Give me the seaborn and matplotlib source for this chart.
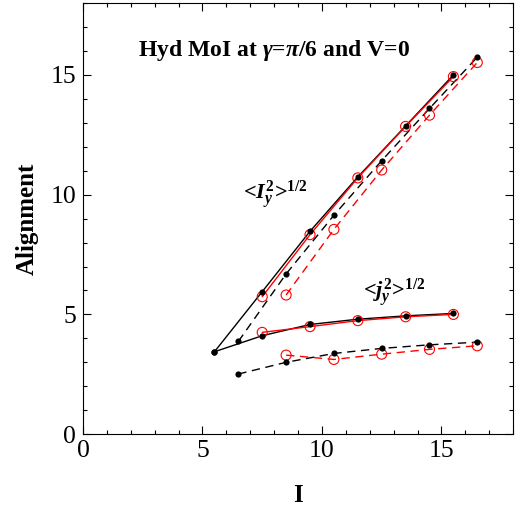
import numpy as np
import pandas as pd
import matplotlib
matplotlib.use("Agg")
import matplotlib.pyplot as plt
import seaborn as sns
from matplotlib.ticker import MultipleLocator

# ---- data ----
spin_a = [5.5, 7.5, 9.5, 11.5, 13.5, 15.5]
Iy_black_solid = [3.44, 5.95, 8.47, 10.74, 12.87, 15.0]
jy_black_solid = [3.44, 4.11, 4.58, 4.8, 4.94, 5.04]

spin_a_red = [7.5, 9.5, 11.5, 13.5, 15.5]
Iy_red_solid = [5.74, 8.33, 10.7, 12.85, 14.93]
jy_red_solid = [4.25, 4.49, 4.74, 4.9, 5.0]

spin_b = [6.5, 8.5, 10.5, 12.5, 14.5, 16.5]
Iy_black_dash = [3.87, 6.69, 9.14, 11.42, 13.6, 15.74]
jy_black_dash = [2.51, 3.0, 3.37, 3.58, 3.73, 3.84]

spin_b_red = [8.5, 10.5, 12.5, 14.5, 16.5]
Iy_red_dash = [5.81, 8.55, 11.03, 13.32, 15.52]
jy_red_dash = [3.3, 3.12, 3.34, 3.54, 3.69]

title_text = r"Hyd MoI at $\gamma$=$\pi$/6 and V=0"
label_I = r"<$I_y^2$>$^{1/2}$"
label_j = r"<$j_y^2$>$^{1/2}$"

# ---- style ----
sns.set_style("ticks")
plt.rcParams["font.family"] = ["Liberation Serif", "DejaVu Serif"]
plt.rcParams["mathtext.fontset"] = "custom"
plt.rcParams["mathtext.rm"] = "Liberation Serif:bold"
plt.rcParams["mathtext.it"] = "Liberation Serif:italic:bold"
plt.rcParams["mathtext.bf"] = "Liberation Serif:bold"
plt.rcParams["text.color"] = "black"
plt.rcParams["axes.labelcolor"] = "black"
plt.rcParams["xtick.color"] = "black"
plt.rcParams["ytick.color"] = "black"
plt.rcParams["axes.edgecolor"] = "black"

fig = plt.figure(figsize=(5.22, 5.15), dpi=100)
ax = fig.add_axes([0.159, 0.157, 0.824, 0.837])

dash = (6, 4)
series = [
    (spin_a, Iy_black_solid, "black", "-", "dot"),
    (spin_a, jy_black_solid, "black", "-", "dot"),
    (spin_a_red, Iy_red_solid, "red", "-", "circle"),
    (spin_a_red, jy_red_solid, "red", "-", "circle"),
    (spin_b, Iy_black_dash, "black", "--", "dot"),
    (spin_b, jy_black_dash, "black", "--", "dot"),
    (spin_b_red, Iy_red_dash, "red", "--", "circle"),
    (spin_b_red, jy_red_dash, "red", "--", "circle"),
]

for xs, ys, col, ls, mk in series:
    df = pd.DataFrame({"x": xs, "y": ys})
    sns.lineplot(data=df, x="x", y="y", ax=ax, color=col, linewidth=1.0,
                 sort=False, estimator=None, legend=False)
    if ls == "--":
        ax.lines[-1].set_dashes(dash)
    if mk == "dot":
        sns.scatterplot(data=df, x="x", y="y", ax=ax, color="black", s=20,
                        edgecolor="black", linewidth=0, legend=False, zorder=5)
    else:
        sns.scatterplot(data=df, x="x", y="y", ax=ax, facecolor="none", s=52,
                        edgecolor="red", linewidth=0.8, legend=False, zorder=4)

ax.set_xlim(0, 18)
ax.set_ylim(0, 18)
ax.xaxis.set_major_locator(MultipleLocator(5))
ax.yaxis.set_major_locator(MultipleLocator(5))
ax.xaxis.set_minor_locator(MultipleLocator(1))
ax.yaxis.set_minor_locator(MultipleLocator(1))
ax.tick_params(which="both", direction="in", top=True, right=True,
               labelsize=18.5, width=0.8, color="black", labelcolor="black")
ax.tick_params(axis="x", which="major", pad=4)
ax.tick_params(axis="y", which="major", pad=5)
ax.tick_params(which="major", length=6)
ax.tick_params(which="minor", length=3)
for sp in ax.spines.values():
    sp.set_linewidth(0.8)
    sp.set_color("black")

ax.set_xlabel("I", fontsize=18, fontweight="bold", color="black")
ax.set_ylabel("Alignment", fontsize=18, fontweight="bold", color="black")
ax.xaxis.set_label_coords(0.5, -0.142)
ax.yaxis.set_label_coords(-0.130, 0.5)
ax.xaxis.label.set_va("center")
ax.yaxis.label.set_va("center")

ax.text(0.444, 0.89, title_text, transform=ax.transAxes, ha="center", va="center",
        fontsize=17, fontweight="bold", color="black")
ax.text(6.7, 10.0, label_I, fontsize=16, fontweight="bold", ha="left", va="center",
        color="black")
ax.text(11.7, 5.9, label_j, fontsize=16, fontweight="bold", ha="left", va="center",
        color="black")

fig.savefig("out.png", dpi=100)
